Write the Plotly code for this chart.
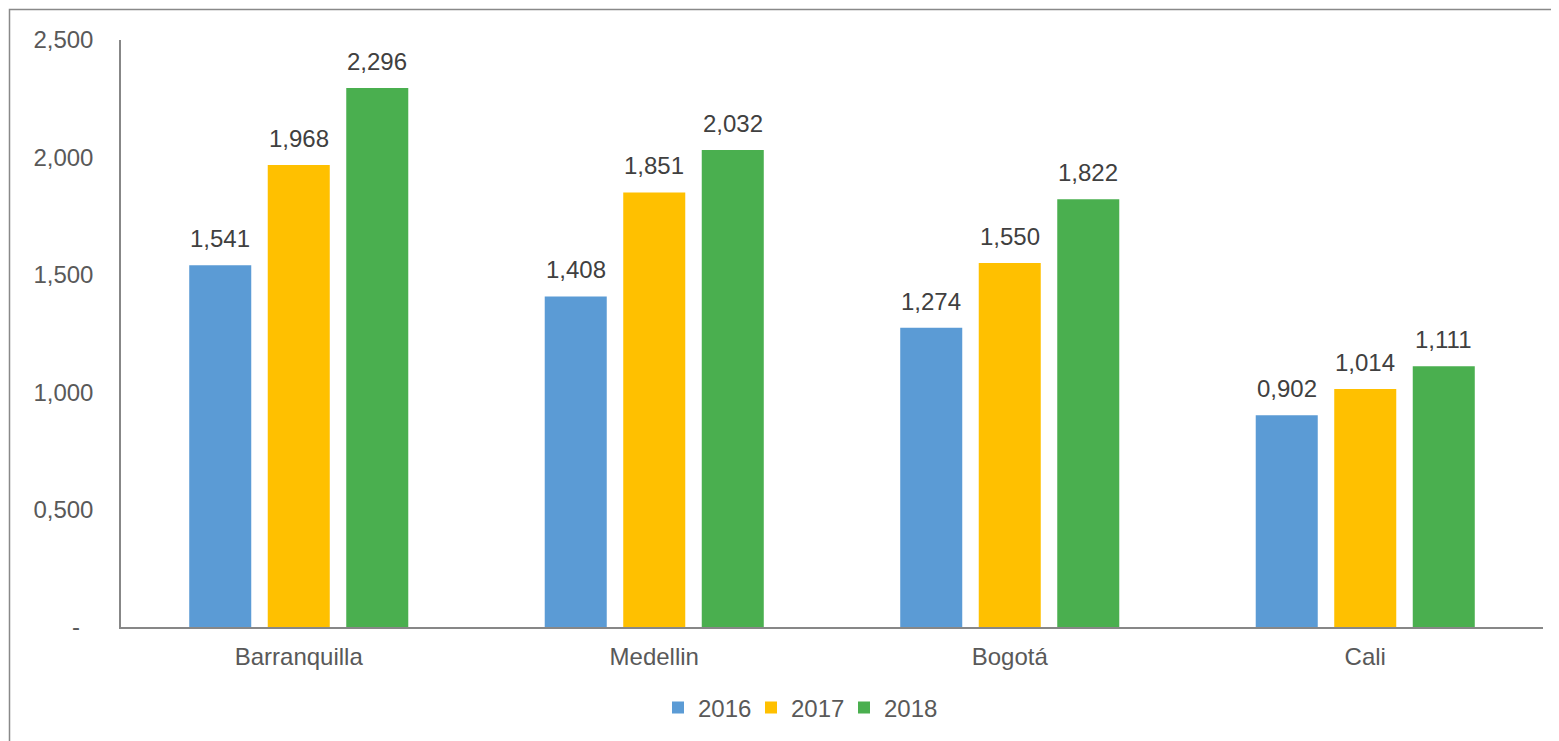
import plotly.graph_objects as go

categories = ["Barranquilla", "Medellin", "Bogotá", "Cali"]
years = ["2016", "2017", "2018"]
v2016 = [1.541, 1.408, 1.274, 0.902]
v2017 = [1.968, 1.851, 1.550, 1.014]
v2018 = [2.296, 2.032, 1.822, 1.111]
y_tickvals = [0, 0.5, 1.0, 1.5, 2.0, 2.5]
y_ticktext = ["-\u00a0\u00a0", "0,500", "1,000", "1,500", "2,000", "2,500"]

colors = ["#5B9BD5", "#FFC000", "#4AAF4F"]
series = [v2016, v2017, v2018]

FONT = "Liberation Sans, Arial, sans-serif"
FS = 24

# page body has an 8px margin, so the figure is sized to fill the rest of the window
W, H = 1551, 733
L, R, T, B = 113, 16, 32, 113
pw, ph = W - L - R, H - T - B
BARGAP, GROUPGAP = 0.3375, 0.21
slot_px = pw / len(categories) * (1 - BARGAP) / len(series)

fig = go.Figure()
annotations = []
for k, (name, vals, col) in enumerate(zip(years, series, colors)):
    fig.add_trace(go.Bar(
        x=categories, y=vals, name=name,
        marker=dict(color=col, line=dict(width=0)),
    ))
    for cat, v in zip(categories, vals):
        annotations.append(dict(
            x=cat, y=v, xref="x", yref="y",
            text=f"{v:.3f}".replace(".", ","),
            showarrow=False, xanchor="center", yanchor="bottom",
            xshift=(k - (len(series) - 1) / 2) * slot_px, yshift=11,
            font=dict(family=FONT, size=FS, color="#404040"),
        ))

fig.update_layout(
    width=W, height=H, autosize=False,
    margin=dict(l=L, r=R, t=T, b=B, pad=0),
    paper_bgcolor="white", plot_bgcolor="white",
    separators=",.",
    barmode="group", bargap=BARGAP, bargroupgap=GROUPGAP,
    font=dict(family=FONT, size=FS, color="#595959"),
    showlegend=True,
    legend=dict(orientation="h", xanchor="left", x=(650 - L) / pw,
                yanchor="middle", y=(T + ph - 700) / ph,
                font=dict(family=FONT, size=FS, color="#595959"),
                itemwidth=30, entrywidth=48, tracegroupgap=0),
    annotations=annotations,
    xaxis=dict(showline=True, linecolor="#878787", linewidth=2,
               showgrid=False, ticks="", ticklabelstandoff=7,
               tickfont=dict(family=FONT, size=FS, color="#595959")),
    yaxis=dict(range=[0, 2.5], showline=True, linecolor="#878787", linewidth=1.5,
               showgrid=False, zeroline=False, ticks="",
               tickvals=y_tickvals, ticktext=y_ticktext, ticklabelstandoff=21,
               tickfont=dict(family=FONT, size=FS, color="#595959")),
    shapes=[dict(type="rect", xref="paper", yref="paper",
                 x0=(1.5 - L) / pw, x1=1.3,
                 y0=-0.5, y1=1 + (T - 1.5) / ph,
                 line=dict(color="#898989", width=1.5), fillcolor="rgba(0,0,0,0)",
                 layer="below")],
)

fig.write_html("out.html")
